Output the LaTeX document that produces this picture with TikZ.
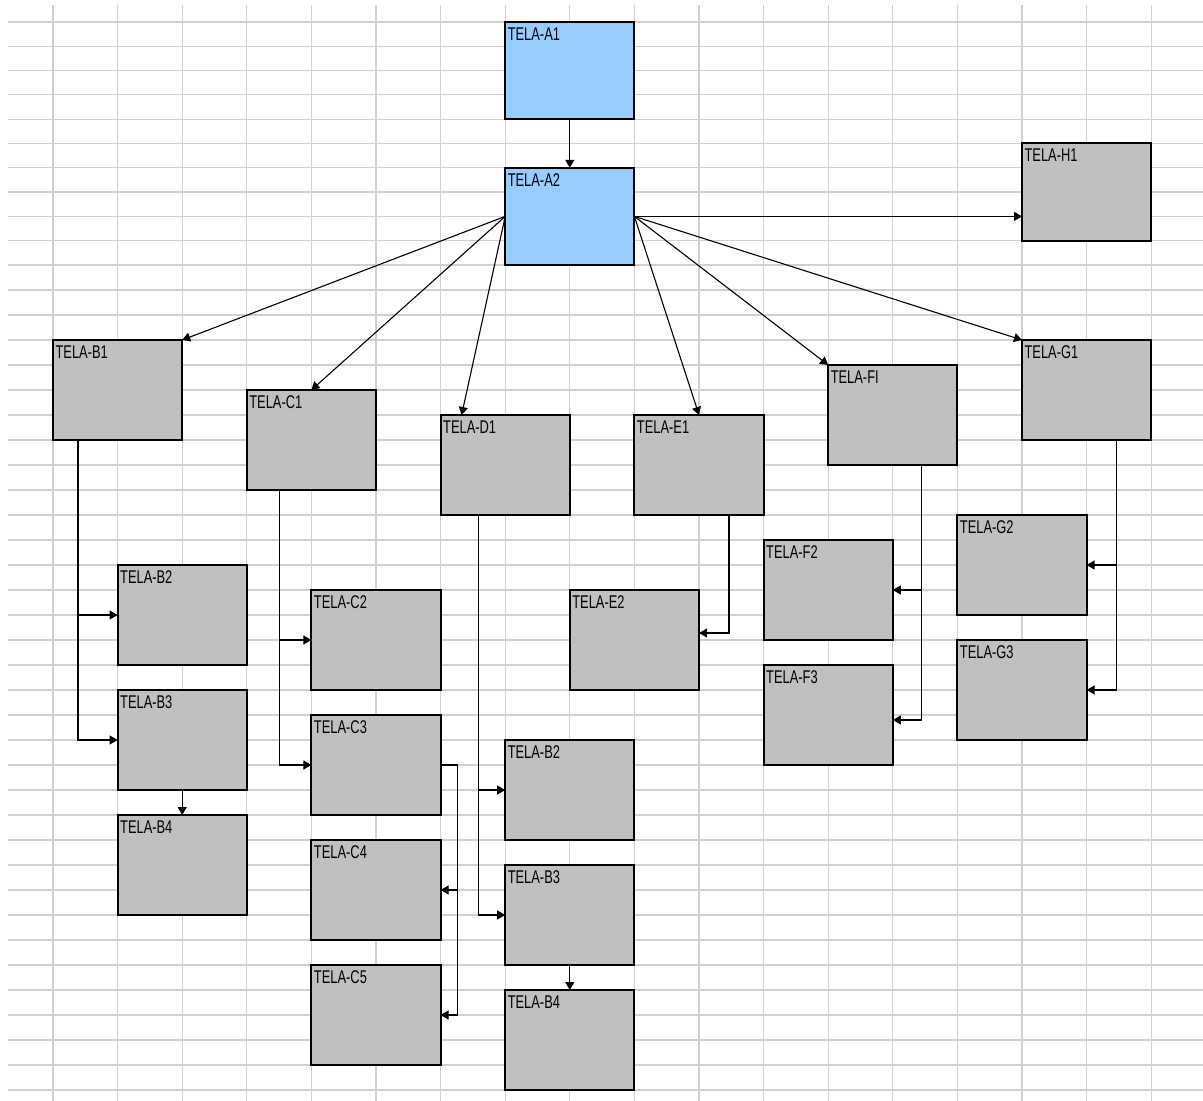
\documentclass[tikz,border=0pt]{standalone}
\usepackage{fontspec}
\newfontfamily\telafont[FakeStretch=0.7]{Liberation Sans}
\usetikzlibrary{arrows.meta,positioning}
\definecolor{telaazul}{RGB}{153,204,255}
\definecolor{telacinza}{RGB}{192,192,192}
\definecolor{grade}{RGB}{208,208,208}
\tikzset{
    tela/.style={
        draw=black,
        line width=1pt,
        fill=telacinza,
        anchor=north west,
        inner sep=0pt,
        outer sep=0pt,
        minimum width=64.6pt,
        minimum height=50pt,
    },
    telaA/.style={tela, fill=telaazul, minimum height=48.6pt},
    rotulo/.style={anchor=north west, inner sep=0pt, font=\telafont\fontsize{9.2}{10}\selectfont},
    linhagrade/.style={draw=grade, line width=0.6pt},
}

\begin{document}
\begin{tikzpicture}[x=0.5pt,y=-0.5pt,>={Triangle[length=4pt,width=4.5pt]},line width=0.55pt]
    \fill[white] (0,0) rectangle (1203,1101);
    \useasboundingbox (0,0) rectangle (1203,1101);
    % grade da planilha
    \foreach \k in {0,...,10}
        \draw[linhagrade] (8,{22+24.3*\k}) -- (1203,{22+24.3*\k});
    \foreach \k in {11,...,43}
        \draw[linhagrade] (8,{265+25*(\k-10)}) -- (1203,{265+25*(\k-10)});
    \foreach \c in {0,...,17}
        \draw[linhagrade] ({53+64.6*\c},5) -- ({53+64.6*\c},1101);

    % telas
    \node [telaA] (A1) at (505.2,22) {};
    \node [telaA] (A2) [below=24.3pt of A1] {};
    \node [tela, minimum height=48.6pt] (H1) at (1022,143.5) {};
    \node [tela] (B1) at (53,340) {};
    \node [tela] (C1) at (246.8,390) {};
    \node [tela] (D1) at (440.6,415) {};
    \node [tela] (E1) at (634.4,415) {};
    \node [tela] (FI) at (828.2,365) {};
    \node [tela] (G1) at (1022,340) {};
    \node [tela] (B2L) at (117.6,565) {};
    \node [tela] (B3L) [below=12.5pt of B2L] {};
    \node [tela] (B4L) [below=12.5pt of B3L] {};
    \node [tela] (C2) at (311.4,590) {};
    \node [tela] (C3) [below=12.5pt of C2] {};
    \node [tela] (C4) [below=12.5pt of C3] {};
    \node [tela] (C5) [below=12.5pt of C4] {};
    \node [tela] (E2) at (569.8,590) {};
    \node [tela] (F2) at (763.6,540) {};
    \node [tela] (F3) [below=12.5pt of F2] {};
    \node [tela] (G2) at (957.4,515) {};
    \node [tela] (G3) [below=12.5pt of G2] {};
    \node [tela] (B2M) at (505.2,740) {};
    \node [tela] (B3M) [below=12.5pt of B2M] {};
    \node [tela] (B4M) [below=12.5pt of B3M] {};

    \foreach \n/\t in {A1/TELA-A1, A2/TELA-A2, H1/TELA-H1, B1/TELA-B1, C1/TELA-C1,
        D1/TELA-D1, E1/TELA-E1, FI/TELA-FI, G1/TELA-G1, B2L/TELA-B2, B3L/TELA-B3,
        B4L/TELA-B4, C2/TELA-C2, C3/TELA-C3, C4/TELA-C4, C5/TELA-C5, E2/TELA-E2,
        F2/TELA-F2, F3/TELA-F3, G2/TELA-G2, G3/TELA-G3, B2M/TELA-B2, B3M/TELA-B3,
        B4M/TELA-B4}
        \node [rotulo] (t\n) at ([shift={(2,5)}]\n.north west) {\t};

    % ligacoes
    \draw[->] (A1) -- (A2);
    \draw[->] (A2.west) -- (B1.north east);
    \draw[->] (A2.west) -- (C1.north);
    \draw[->] (A2.west) -- ([xshift=10.5pt]D1.north west);
    \draw[->] (A2.east) -- (E1.north);
    \draw[->] (A2.east) -- (FI.north west);
    \draw[->] (A2.east) -- (G1.north west);
    \draw[->] (A2.east) -- (A2.east -| H1.west);

    \draw[->] ([xshift=12.5pt]B1.south west) |- (B2L.west);
    \draw[->] ([xshift=12.5pt]B1.south west) |- (B3L.west);
    \draw[->] (B3L) -- (B4L);
    \draw[->] ([xshift=16.5pt]C1.south west) |- (C2.west);
    \draw[->] ([xshift=16.5pt]C1.south west) |- (C3.west);
    \draw (C3.east) -- ++(8.5pt,0) coordinate (c3dir);
    \draw[->] (c3dir) |- (C4.east);
    \draw[->] (c3dir) |- (C5.east);
    \draw[->] ([xshift=19pt]D1.south west) |- (B2M.west);
    \draw[->] ([xshift=19pt]D1.south west) |- (B3M.west);
    \draw[->] (B3M) -- (B4M);
    \draw[->] ([xshift=-17.3pt]E1.south east) |- ([yshift=3.5pt]E2.east);
    \draw[->] ([xshift=-18pt]FI.south east) |- (F2.east);
    \draw[->] ([xshift=-18pt]FI.south east) |- ([yshift=-2.5pt]F3.east);
    \draw[->] ([xshift=-17.3pt]G1.south east) |- (G2.east);
    \draw[->] ([xshift=-17.3pt]G1.south east) |- (G3.east);
\end{tikzpicture}
\end{document}
